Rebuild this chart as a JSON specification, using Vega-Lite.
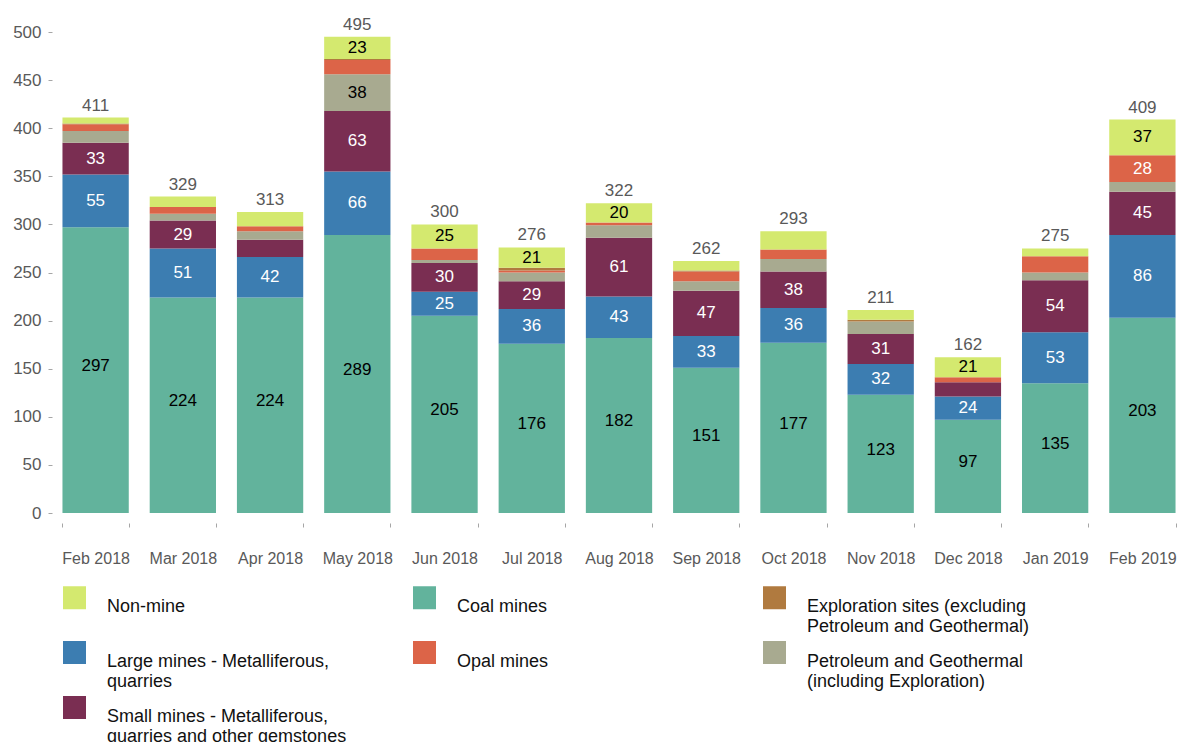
{
  "$schema": "https://vega.github.io/schema/vega-lite/v6.json",
  "width": 1134,
  "height": 481,
  "autosize": "none",
  "padding": {"left": 52, "top": 32, "right": 3, "bottom": 229},
  "config": {"font": "Liberation Sans", "view": {"stroke": null}},
  "data": {
    "values": [
      {"month": "Feb 2018", "coal": 297, "large": 55, "small": 33, "petroleum": 12, "opal": 7, "exploration": 1, "nonmine": 6, "total": 411},
      {"month": "Mar 2018", "coal": 224, "large": 51, "small": 29, "petroleum": 7, "opal": 7, "exploration": 0, "nonmine": 11, "total": 329},
      {"month": "Apr 2018", "coal": 224, "large": 42, "small": 18, "petroleum": 9, "opal": 5, "exploration": 0, "nonmine": 15, "total": 313},
      {"month": "May 2018", "coal": 289, "large": 66, "small": 63, "petroleum": 38, "opal": 15, "exploration": 1, "nonmine": 23, "total": 495},
      {"month": "Jun 2018", "coal": 205, "large": 25, "small": 30, "petroleum": 3, "opal": 12, "exploration": 0, "nonmine": 25, "total": 300},
      {"month": "Jul 2018", "coal": 176, "large": 36, "small": 29, "petroleum": 9, "opal": 2, "exploration": 3, "nonmine": 21, "total": 276},
      {"month": "Aug 2018", "coal": 182, "large": 43, "small": 61, "petroleum": 13, "opal": 3, "exploration": 0, "nonmine": 20, "total": 322},
      {"month": "Sep 2018", "coal": 151, "large": 33, "small": 47, "petroleum": 10, "opal": 10, "exploration": 1, "nonmine": 10, "total": 262},
      {"month": "Oct 2018", "coal": 177, "large": 36, "small": 38, "petroleum": 13, "opal": 10, "exploration": 0, "nonmine": 19, "total": 293},
      {"month": "Nov 2018", "coal": 123, "large": 32, "small": 31, "petroleum": 13, "opal": 0, "exploration": 2, "nonmine": 10, "total": 211},
      {"month": "Dec 2018", "coal": 97, "large": 24, "small": 15, "petroleum": 0, "opal": 5, "exploration": 0, "nonmine": 21, "total": 162},
      {"month": "Jan 2019", "coal": 135, "large": 53, "small": 54, "petroleum": 8, "opal": 17, "exploration": 0, "nonmine": 8, "total": 275},
      {"month": "Feb 2019", "coal": 203, "large": 86, "small": 45, "petroleum": 10, "opal": 28, "exploration": 0, "nonmine": 37, "total": 409}
    ]
  },
  "transform": [
    {"fold": ["coal", "large", "small", "petroleum", "opal", "exploration", "nonmine"], "as": ["cat", "value"]},
    {"calculate": "indexof(['coal','large','small','petroleum','opal','exploration','nonmine'], datum.cat)", "as": "rank"},
    {"stack": "value", "groupby": ["month"], "sort": [{"field": "rank", "order": "ascending"}], "as": ["v0", "v1"]},
    {"calculate": "(datum.v0 + datum.v1) / 2", "as": "mid"}
  ],
  "encoding": {
    "x": {
      "field": "month",
      "type": "nominal",
      "sort": null,
      "scale": {"paddingInner": 0.24, "paddingOuter": 0.12},
      "axis": {
        "title": null,
        "domain": false,
        "offset": 10,
        "tickSize": 4,
        "tickBand": "extent",
        "tickColor": "#a6a6a6",
        "labelAngle": 0,
        "labelFontSize": 16,
        "labelColor": "#595959",
        "labelPadding": 23
      }
    }
  },
  "layer": [
    {
      "mark": {"type": "bar"},
      "transform": [{"filter": "datum.value > 0"}],
      "encoding": {
        "y": {
          "field": "v0",
          "type": "quantitative",
          "scale": {"domain": [0, 500], "nice": false},
          "axis": {
            "title": null,
            "domain": false,
            "grid": false,
            "values": [0, 50, 100, 150, 200, 250, 300, 350, 400, 450, 500],
            "tickSize": 4,
            "tickColor": "#a6a6a6",
            "labelFontSize": 17,
            "labelColor": "#595959",
            "labelPadding": 7
          }
        },
        "y2": {"field": "v1"},
        "color": {
          "field": "cat",
          "type": "nominal",
          "scale": {
            "domain": ["nonmine", "coal", "exploration", "large", "opal", "petroleum", "small"],
            "range": ["#d4e96f", "#62b39c", "#b07a3f", "#3c7db1", "#dc6448", "#a8aa90", "#7a2e52"]
          },
          "legend": {
            "orient": "none",
            "legendX": 11,
            "legendY": 554,
            "columns": 3,
            "direction": "horizontal",
            "title": null,
            "padding": 0,
            "symbolType": "square",
            "symbolSize": 529,
            "symbolStrokeWidth": 0,
            "symbolOpacity": 1,
            "labelFontSize": 18,
            "labelColor": "#111111",
            "labelLimit": 400,
            "labelOffset": 21,
            "labelBaseline": "top",
            "columnPadding": 66,
            "rowPadding": 5,
            "gridAlign": "all",
            "labelExpr": "datum.label == 'nonmine' ? ['Non-mine', ''] : datum.label == 'coal' ? ['Coal mines', ''] : datum.label == 'opal' ? ['Opal mines', ''] : datum.label == 'large' ? ['Large mines - Metalliferous,', 'quarries'] : datum.label == 'small' ? ['Small mines - Metalliferous,', 'quarries and other gemstones'] : datum.label == 'exploration' ? ['Exploration sites (excluding', 'Petroleum and Geothermal)'] : ['Petroleum and Geothermal', '(including Exploration)']"
          }
        }
      }
    },
    {
      "mark": {"type": "text", "fontSize": 17, "baseline": "middle"},
      "transform": [{"filter": "datum.value >= 20 && datum.cat != 'coal'"}],
      "encoding": {
        "y": {"field": "mid", "type": "quantitative"},
        "text": {"field": "value", "type": "quantitative"},
        "fill": {
          "condition": {"test": "indexof(['large','small','opal'], datum.cat) >= 0", "value": "white"},
          "value": "black"
        }
      }
    },
    {
      "mark": {"type": "text", "fontSize": 17, "baseline": "middle", "dy": -4, "color": "black"},
      "transform": [{"filter": "datum.cat == 'coal'"}],
      "encoding": {
        "y": {"field": "mid", "type": "quantitative"},
        "text": {"field": "value", "type": "quantitative"}
      }
    },
    {
      "mark": {"type": "text", "fontSize": 17, "baseline": "alphabetic", "dy": -7, "color": "#595959"},
      "transform": [{"filter": "datum.cat == 'coal'"}],
      "encoding": {
        "y": {"field": "total", "type": "quantitative"},
        "text": {"field": "total", "type": "quantitative"}
      }
    }
  ]
}
